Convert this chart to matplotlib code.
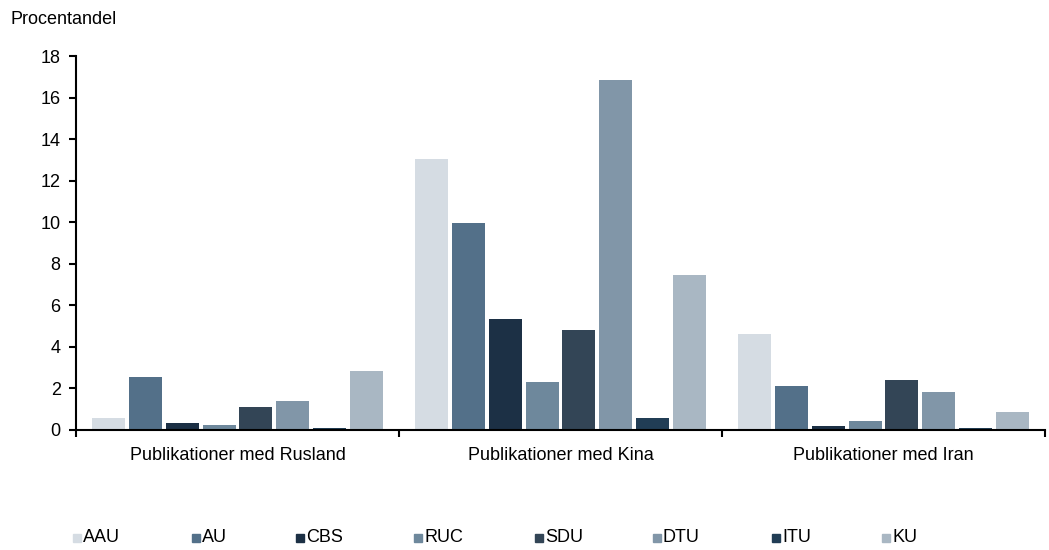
import matplotlib.pyplot as plt
import numpy as np
from matplotlib.patches import Rectangle

plt.rcParams['font.family'] = ['Liberation Sans', 'DejaVu Sans']

groups = ['Publikationer med Rusland', 'Publikationer med Kina', 'Publikationer med Iran']
universities = ['AAU', 'AU', 'CBS', 'RUC', 'SDU', 'DTU', 'ITU', 'KU']
values = {
    'AAU': [0.6, 13.05, 4.62],
    'AU':  [2.55, 9.95, 2.12],
    'CBS': [0.35, 5.35, 0.2],
    'RUC': [0.25, 2.3, 0.45],
    'SDU': [1.1, 4.8, 2.4],
    'DTU': [1.4, 16.85, 1.83],
    'ITU': [0.1, 0.6, 0.1],
    'KU':  [2.85, 7.45, 0.85],
}
colors = ['#d5dce3', '#537089', '#1c3045', '#6e889c', '#334556', '#8196a8', '#213d55', '#a9b7c3']

W, H = 1049, 550
fig = plt.figure(figsize=(W / 100, H / 100), dpi=100)
ax = fig.add_axes([76 / W, 1 - 430 / H, (1045 - 76) / W, (430 - 56) / H])

x = np.arange(len(groups))
slot = 0.114
width = 0.102
for i, (uni, col) in enumerate(zip(universities, colors)):
    offs = (i - 3.5) * slot
    ax.bar(x + offs, values[uni], width=width, color=col, label=uni)

ax.set_xlim(-0.5, 2.5)
ax.set_ylim(0, 18)
ax.set_yticks(range(0, 19, 2))
ax.tick_params(axis='y', labelsize=13, length=5, width=1.5, direction='out', pad=6)
ax.set_xticks([-0.5, 0.5, 1.5, 2.5])
ax.set_xticklabels([])
ax.set_xticks(x, minor=True)
ax.set_xticklabels(groups, minor=True, fontsize=13)
ax.tick_params(axis='x', which='major', length=5, width=1.5, direction='out')
ax.tick_params(axis='x', which='minor', length=0, pad=12)
for s in ['top', 'right']:
    ax.spines[s].set_visible(False)
ax.spines['left'].set_linewidth(1.5)
ax.spines['bottom'].set_linewidth(1.5)

fig.text(10 / W, 1 - 20 / H, 'Procentandel', fontsize=13, va='center')

# legend, laid out by hand to match the spacing of the original
leg_x = [73, 192, 296, 414, 535, 653, 772, 882]
for lx, uni, col in zip(leg_x, universities, colors):
    fig.add_artist(Rectangle((lx / W, 1 - 542 / H), 8 / W, 8 / H, color=col,
                             transform=fig.transFigure))
    fig.text((lx + 10) / W, 1 - 538 / H, uni, fontsize=13, va='center')

fig.savefig('out.png', dpi=100)
